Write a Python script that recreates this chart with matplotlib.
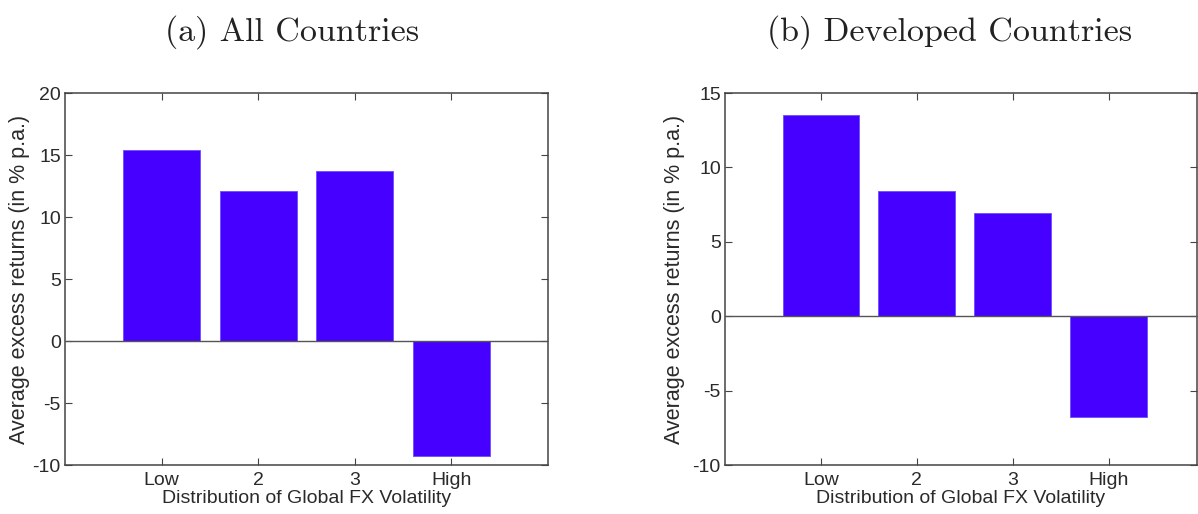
import numpy as np
import matplotlib.pyplot as plt

plt.rcParams['axes.unicode_minus'] = False

# data
categories = ["Low", "2", "3", "High"]
all_countries = [15.43, 12.1, 13.7, -9.24]
developed = [13.49, 8.44, 6.92, -6.75]

titles = ["(a) All Countries", "(b) Developed Countries"]
ylims = [(-10, 20), (-10, 15)]
xlims = [(0, 5), (0, 4.92)]
series = [all_countries, developed]

bar_color = "#4600ff"
text_color = "#2a2a2a"

fig = plt.figure(figsize=(11.98, 5.14), dpi=100)
positions = [
    [65 / 1198, 1 - 465 / 514, (548 - 65) / 1198, (465 - 93) / 514],
    [725 / 1198, 1 - 465 / 514, (1197 - 725) / 1198, (465 - 93) / 514],
]
ylabel_x = [-0.094, -0.106]
title_x = [292, 950]

for i, (pos, vals, ylim, xlim) in enumerate(zip(positions, series, ylims, xlims)):
    ax = fig.add_axes(pos)
    x = np.arange(1, len(categories) + 1)
    ax.bar(x, vals, width=0.8, color=bar_color, edgecolor="#6a4dff", linewidth=0.6, zorder=2)
    ax.axhline(0, color="#555555", linewidth=1.0, zorder=3)
    ax.set_xlim(*xlim)
    ax.set_ylim(*ylim)
    ax.set_yticks(np.arange(ylim[0], ylim[1] + 1, 5))
    ax.set_xticks(x)
    ax.set_xticklabels(categories)
    ax.tick_params(direction="in", length=5, width=0.8, top=True, right=True,
                   labelsize=14, colors="#444444", labelcolor=text_color)
    ax.tick_params(axis="y", pad=3)
    ax.tick_params(axis="x", pad=5)
    for s in ax.spines.values():
        s.set_color("#444444")
        s.set_linewidth(1.1)
    for lbl in ax.get_xticklabels() + ax.get_yticklabels():
        lbl.set_family("Liberation Sans")
    ax.set_xlabel("Distribution of Global FX Volatility", fontsize=14,
                  family="Liberation Sans", color=text_color)
    ax.xaxis.set_label_coords(0.5, -0.09)
    ax.xaxis.label.set_va("center")
    ax.set_ylabel("Average excess returns (in % p.a.)", fontsize=15.5,
                  family="Liberation Sans", color=text_color)
    ax.yaxis.set_label_coords(ylabel_x[i], 0.5)
    ax.yaxis.label.set_va("center")
    fig.text(title_x[i] / 1198, 1 - 32 / 514, titles[i], ha="center", va="center",
             fontsize=24.5, family="cmr10", color="#222222")

fig.savefig("out.png", dpi=100)
